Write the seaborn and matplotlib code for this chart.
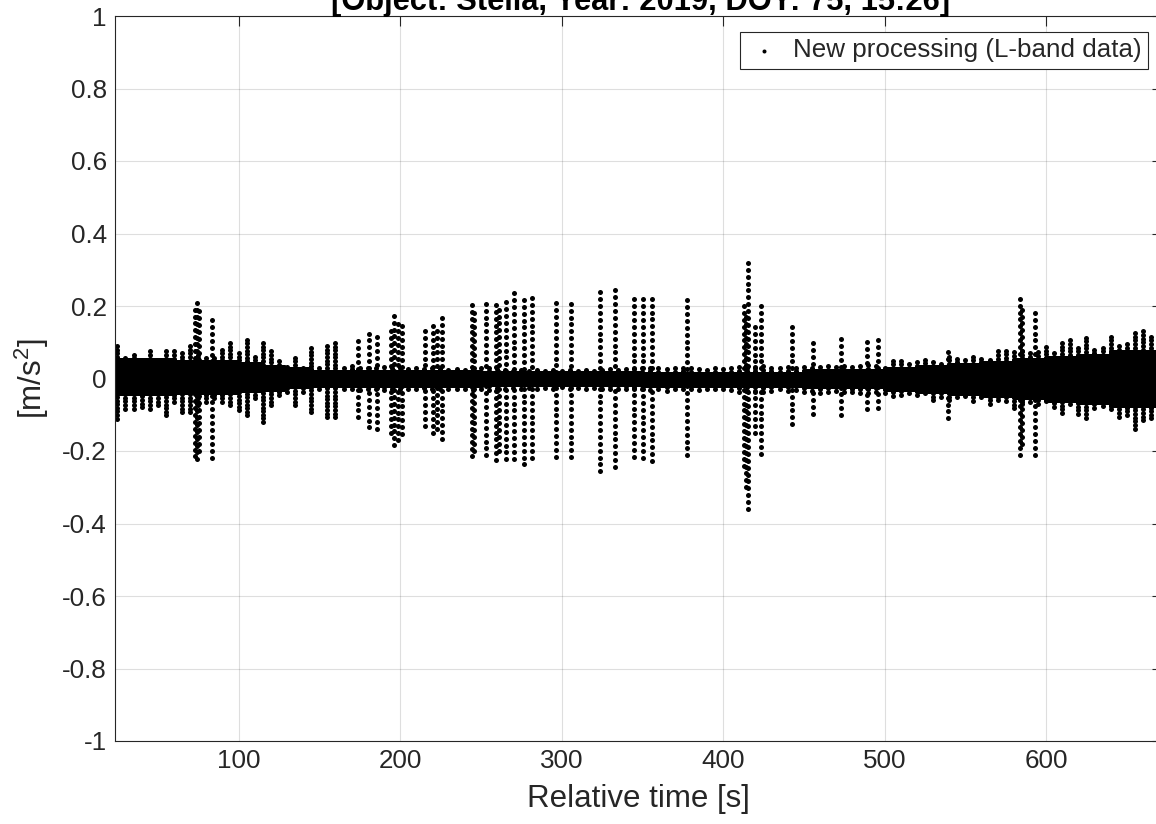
import numpy as np
import pandas as pd
import seaborn as sns
import matplotlib
matplotlib.use('Agg')
import matplotlib.pyplot as plt

# solid core of the noise band, piecewise segments [s] / [m/s^2]
core_t0 = [23.5, 60, 100, 115, 128, 145, 170, 250, 350, 450, 500, 520, 540, 560, 580, 600, 620, 640]
core_t1 = [60, 100, 115, 128, 145, 170, 250, 350, 450, 500, 520, 540, 560, 580, 600, 620, 640, 668]
core_hi = [0.050, 0.046, 0.040, 0.034, 0.026, 0.022, 0.019, 0.017, 0.018, 0.022,
           0.028, 0.034, 0.040, 0.046, 0.052, 0.058, 0.064, 0.072]
core_lo = [-0.040, -0.038, -0.032, -0.028, -0.022, -0.019, -0.017, -0.016, -0.017, -0.022,
           -0.028, -0.034, -0.040, -0.046, -0.052, -0.058, -0.064, -0.072]

# ragged edge of the band, read every 5 s
fringe_t = list(range(25, 670, 5))
fringe_hi = [.089, .057, .066, .047, .075, .047, .075, .075, .070, .089,
             .066, .057, .057, .080, .098, .070, .107, .060, .098, .075,
             .047, .033, .057, .029, .084, .029, .089, .098, .029, .035,
             .030, .028, .030, .032, .030, .028, .026, .028, .025, .028,
             .026, .024, .026, .024, .026, .028, .030, .026, .024, .022,
             .024, .022, .024, .022, .024, .022, .024, .022, .024, .022,
             .024, .026, .024, .026, .026, .028, .030, .028, .026, .028,
             .030, .028, .026, .024, .028, .026, .028, .032, .030, .032,
             .034, .030, .028, .032, .030, .032, .030, .032, .034, .032,
             .034, .032, .034, .036, .034, .030, .049, .049, .040, .045,
             .052, .045, .040, .060, .055, .050, .060, .055, .050, .075,
             .077, .072, .075, .070, .072, .087, .070, .098, .105, .085,
             .113, .080, .085, .115, .090, .095, .125, .130, .115]
fringe_lo = [-.111, -.083, -.083, -.079, -.083, -.074, -.102, -.065, -.093, -.093,
             -.074, -.065, -.055, -.065, -.074, -.088, -.102, -.055, -.120, -.074,
             -.046, -.037, -.074, -.037, -.093, -.030, -.107, -.107, -.030, -.030,
             -.032, -.030, -.028, -.033, -.030, -.030, -.028, -.030, -.027, -.030,
             -.028, -.028, -.030, -.028, -.032, -.030, -.032, -.035, -.028, -.026,
             -.028, -.026, -.028, -.026, -.028, -.024, -.028, -.026, -.028, -.026,
             -.028, -.030, -.028, -.030, -.030, -.028, -.032, -.030, -.034, -.030,
             -.028, -.030, -.032, -.030, -.028, -.030, -.032, -.036, -.034, -.034,
             -.036, -.034, -.030, -.034, -.032, -.036, -.034, -.040, -.036, -.034,
             -.036, -.038, -.040, -.040, -.036, -.040, -.048, -.045, -.040, -.045,
             -.040, -.060, -.050, -.060, -.050, -.048, -.062, -.050, -.070, -.060,
             -.062, -.082, -.070, -.065, -.070, -.062, -.078, -.095, -.070, -.098,
             -.108, -.080, -.075, -.085, -.105, -.100, -.138, -.115, -.110]

# isolated spike columns
spike_t = [72.9, 74.3, 75.6, 83.3, 174.0, 180.7, 185.9, 194.3, 196.4, 198.5,
           201.2, 215.2, 220.5, 223.0, 225.7, 244.5, 246.0, 253.5, 259.2, 261.5,
           265.5, 270.7, 277.0, 281.8, 296.5, 305.7, 323.7, 332.9, 345.0, 350.3,
           356.0, 377.4, 412.8, 414.2, 415.6, 419.5, 423.7, 442.8, 455.7, 473.3,
           489.1, 495.8, 539.4, 583.6, 585.0, 593.4]
spike_hi = [.190, .208, .185, .161, .103, .124, .114, .130, .173, .150,
            .145, .131, .145, .130, .167, .203, .180, .206, .203, .190,
            .210, .235, .217, .222, .207, .206, .238, .243, .218, .218,
            .220, .216, .200, .170, .319, .142, .199, .142, .097, .109,
            .100, .105, .072, .220, .190, .181]
spike_lo = [-.215, -.223, -.200, -.218, -.107, -.135, -.139, -.150, -.184, -.170,
            -.153, -.130, -.149, -.140, -.167, -.214, -.200, -.212, -.225, -.200,
            -.223, -.221, -.237, -.219, -.216, -.217, -.256, -.244, -.216, -.219,
            -.228, -.212, -.240, -.300, -.360, -.150, -.208, -.126, -.097, -.101,
            -.083, -.080, -.110, -.210, -.180, -.210]

xticks = [100, 200, 300, 400, 500, 600]
yticks = [-1, -0.8, -0.6, -0.4, -0.2, 0, 0.2, 0.4, 0.6, 0.8, 1]
ytick_labels = ['-1', '-0.8', '-0.6', '-0.4', '-0.2', '0', '0.2', '0.4', '0.6', '0.8', '1']

# build the point cloud
ts, ys = [], []
for t0, t1, hi, lo in zip(core_t0, core_t1, core_hi, core_lo):
    tt, yy = np.meshgrid(np.arange(t0, t1, 0.3), np.arange(lo, hi + 1e-9, 0.006))
    ts.append(tt.ravel()); ys.append(yy.ravel())
for t, hi, lo in zip(fringe_t, fringe_hi, fringe_lo):
    yy = np.concatenate([np.arange(hi, 0, -0.01), np.arange(lo, 0, 0.01)])
    ts.append(np.full(yy.size, t)); ys.append(yy)
for t, hi, lo in zip(spike_t, spike_hi, spike_lo):
    yy = np.concatenate([np.arange(hi, 0, -0.019), np.arange(lo, 0, 0.019)])
    ts.append(np.full(yy.size, t)); ys.append(yy)
df = pd.DataFrame({'t': np.concatenate(ts), 'acc': np.concatenate(ys)})

sns.set_style('white')
plt.rcParams['font.family'] = ['Liberation Sans', 'DejaVu Sans']
plt.rcParams['mathtext.fontset'] = 'custom'
plt.rcParams['mathtext.rm'] = 'Liberation Sans'
plt.rcParams['axes.unicode_minus'] = False

fig = plt.figure(figsize=(11.56, 8.24), dpi=100)
ax = fig.add_axes([115/1156, 83/824, 1047/1156, 725/824])

sns.scatterplot(data=df, x='t', y='acc', color='black', s=13, linewidth=0,
                label='New processing (L-band data)', ax=ax, rasterized=True)

ax.set_xlim(23.5, 671.8)
ax.set_ylim(-1, 1)
ax.set_xticks(xticks)
ax.set_yticks(yticks)
ax.set_yticklabels(ytick_labels)
ax.grid(True, color='#262626', alpha=0.15, lw=0.8)
ax.tick_params(direction='in', length=7.5, width=0.8, colors='#262626',
               labelsize=18.7, top=True, right=True, pad=6)
for sp in ax.spines.values():
    sp.set_color('#262626')
    sp.set_linewidth(0.8)

ax.set_xlabel('Relative time [s]', fontsize=22.5, color='#262626', labelpad=8)
ax.set_ylabel('[m/s$^2$]', fontsize=22.5, color='#262626', labelpad=8)
fig.text(641/1156, 1 - 10/824, '[Object: Stella, Year: 2019, DOY: 75, 15:26]',
         ha='center', va='baseline', fontsize=22.2, fontweight='bold', color='black')

leg = ax.legend(loc='upper right', bbox_to_anchor=(1148/1156, 1 - 32/824),
                bbox_transform=fig.transFigure, borderaxespad=0, fontsize=18.7,
                frameon=True, fancybox=False, edgecolor='#262626', framealpha=1,
                handlelength=1.4, handletextpad=0.4, borderpad=0.25, markerscale=0.8)
leg.get_frame().set_linewidth(0.8)

fig.savefig('out.png', dpi=100)
